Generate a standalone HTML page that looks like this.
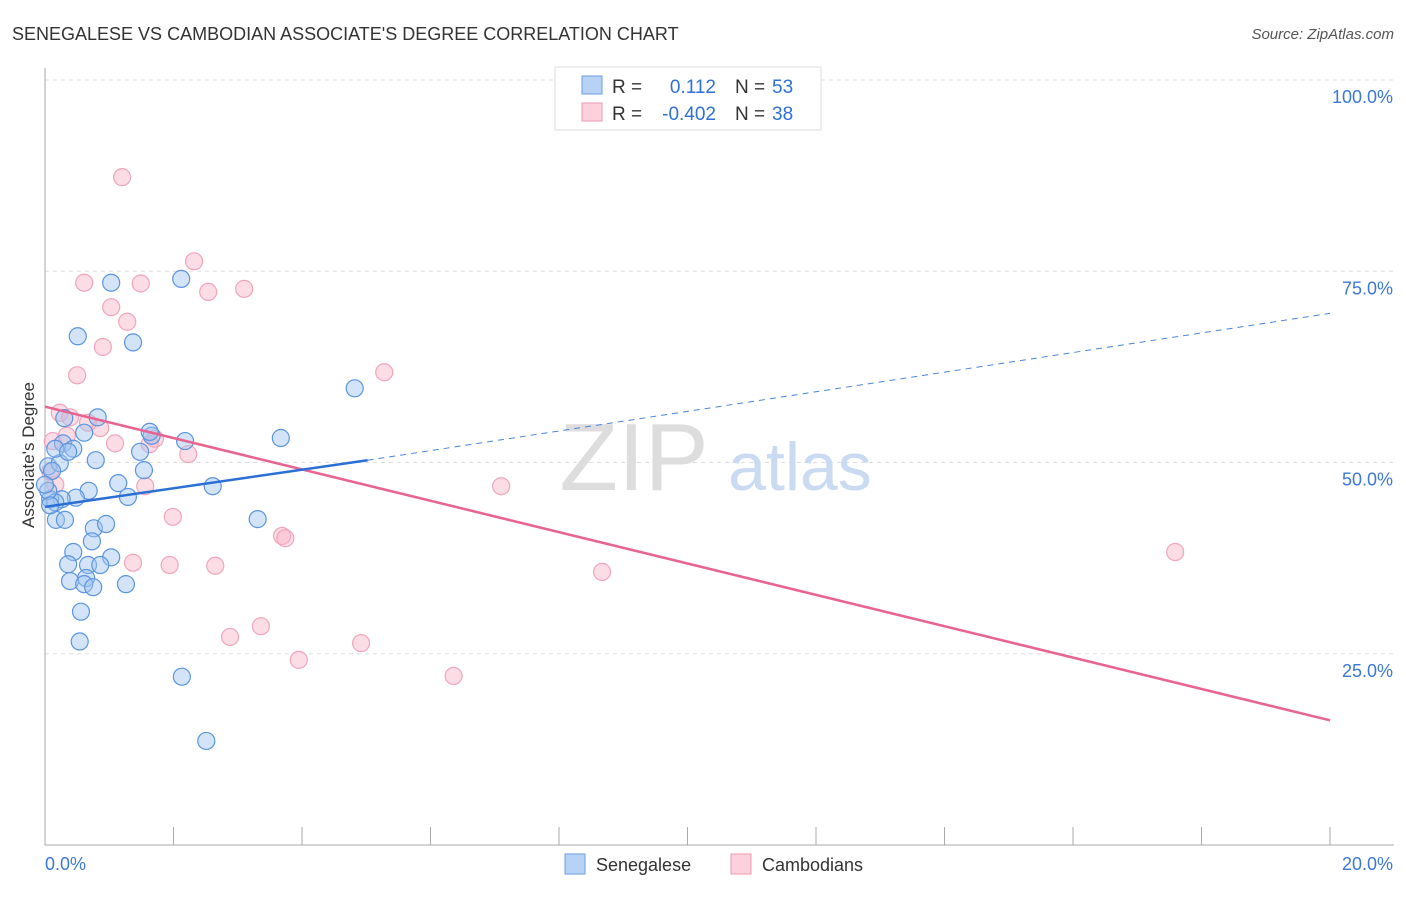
<!DOCTYPE html>
<html><head><meta charset="utf-8"><style>
body{margin:0;background:#fff;font-family:"Liberation Sans",sans-serif;}
svg text{font-family:"Liberation Sans",sans-serif;}
</style></head><body>
<svg id="chart" width="1406" height="892">
<text x="12" y="40" font-size="18" fill="#333">SENEGALESE VS CAMBODIAN ASSOCIATE'S DEGREE CORRELATION CHART</text>
<text x="1394" y="39" font-size="15" fill="#555" font-style="italic" text-anchor="end">Source: ZipAtlas.com</text>
<g id="grid"></g>
<text x="634" y="490" font-size="96" fill="#ddd" font-family="Liberation Serif" text-anchor="middle">ZIP</text>
<text x="800" y="490" font-size="68" fill="#c9daf2" text-anchor="middle">atlas</text>
<g id="pts"></g>
<g id="lines"></g>
<text x="34" y="455" font-size="17" fill="#333" text-anchor="middle" transform="rotate(-90 34 455)">Associate's Degree</text>
<g>
<rect x="555" y="67" width="266" height="63" fill="#fff" stroke="#ddd"/>
<rect x="582" y="76" width="20" height="18" fill="#b8d2f5" stroke="#6a9de0"/>
<rect x="582" y="103" width="20" height="18" fill="#fcd0dc" stroke="#ec9ab2"/>
<text x="612" y="93" font-size="19" fill="#333">R = </text><text x="716" y="93" font-size="19" fill="#2f6fd8" text-anchor="end">0.112</text>
<text x="735" y="93" font-size="19" fill="#333">N = </text><text x="772" y="93" font-size="19" fill="#2f6fd8">53</text>
<text x="612" y="120" font-size="19" fill="#333">R = </text><text x="716" y="120" font-size="19" fill="#2f6fd8" text-anchor="end">-0.402</text>
<text x="735" y="120" font-size="19" fill="#333">N = </text><text x="772" y="120" font-size="19" fill="#2f6fd8">38</text>
</g>
<g><rect x="565" y="854" width="20" height="20" fill="#b8d2f5" stroke="#6a9de0"/><text x="596" y="871" font-size="18" fill="#333">Senegalese</text></g>
<g><rect x="731" y="854" width="20" height="20" fill="#fcd0dc" stroke="#ec9ab2"/><text x="762" y="871" font-size="18" fill="#333">Cambodians</text></g>
</svg>
<script>
const yTicks=[25,50,75,100];
const xTickLabels=["0.0%","20.0%"];
const blueX=[1.03,2.12,0.51,1.37,4.82,3.67,0.82,0.61,0.28,0.44,0.05,0.23,0.79,1.48,1.54,2.18,1.66,1.14,0.68,2.61,1.29,0.48,0.26,0.08,0.16,0.17,0.31,3.31,0.76,0.95,0.73,0.44,1.03,0.36,0.67,0.86,0.64,0.39,1.26,0.61,0.75,0.56,0.54,2.13,2.51,0.11,0.05,0.16,0.36,0.3,1.63,0.08,0.0];
const blueY=[73.5,74.0,66.5,65.7,59.7,53.2,55.9,53.9,52.5,51.8,49.5,49.9,50.3,51.4,49.0,52.8,53.5,47.3,46.3,46.9,45.5,45.4,45.2,45.2,44.8,42.5,42.5,42.6,41.4,41.96,39.7,38.3,37.6,36.7,36.6,36.6,34.9,34.5,34.1,34.1,33.7,30.5,26.6,22.0,13.6,48.9,46.3,51.8,51.4,55.8,54.0,44.4,47.1];
const pinkX=[1.2,2.32,0.61,1.49,3.1,2.54,1.03,1.28,0.9,0.5,5.28,0.23,0.39,0.67,0.86,0.12,0.34,1.09,1.71,1.63,2.23,1.56,0.16,0.08,7.1,1.99,3.69,3.74,1.37,1.94,2.65,8.67,17.59,3.36,2.88,4.92,3.95,6.36];
const pinkY=[87.3,76.3,73.5,73.4,72.7,72.3,70.3,68.4,65.1,61.4,61.8,56.5,55.9,55.2,54.5,52.8,53.5,52.5,53.1,52.4,51.1,46.9,47.1,48.8,46.9,42.9,40.4,40.1,36.9,36.6,36.5,35.7,38.3,28.6,27.2,26.4,24.2,22.1];
const blueLine=[[0,44.2],[5.02,50.3]];
const blueDash=[[5.02,50.3],[20,69.5]];
const pinkLine=[[0,57.3],[20,16.3]];
const X0=45,X1=1330,Y0=845;
const xs=v=>X0+v/20*(X1-X0);
const ys=v=>Y0-v/100*765;
const NS="http://www.w3.org/2000/svg";
function mk(t,a,p){const e=document.createElementNS(NS,t);for(const k in a)e.setAttribute(k,a[k]);p.appendChild(e);return e;}
const g=document.getElementById('grid');
yTicks.forEach(t=>{
 const l=mk('line',{x1:X0,x2:1394,y1:ys(t),y2:ys(t),stroke:'#ddd','stroke-dasharray':'4 4'},g);
 
 
 const tx=mk('text',{x:1393,y:ys(t)+23,'font-size':18,fill:'#3b78d8','text-anchor':'end'},g);
 tx.textContent=t.toFixed(1)+'%';
 
 
});
mk('line',{x1:X0,x2:X0,y1:68,y2:Y0,stroke:'#aaa'},g);
mk('line',{x1:X0,x2:1394,y1:Y0,y2:Y0,stroke:'#aaa'},g);
for(let i=1;i<=10;i++){mk('line',{x1:xs(i*2),x2:xs(i*2),y1:Y0-18,y2:Y0,stroke:'#aaa'},g);}
[[0,'start',45],[20,'end',1393]].forEach((d,i)=>{
 const tx=mk('text',{x:d[2],y:870,'font-size':18,fill:'#3b78d8','text-anchor':d[1]},g);
 tx.textContent=xTickLabels[i];
 
 
});
const p=document.getElementById('pts');
pinkX.forEach((x,i)=>{
 const c=mk('circle',{cx:xs(x),cy:ys(pinkY[i]),r:8.5,fill:'rgba(248,180,200,0.45)',stroke:'#f0a5bd','stroke-width':1.2},p);
 
 
});
blueX.forEach((x,i)=>{
 const c=mk('circle',{cx:xs(x),cy:ys(blueY[i]),r:8.5,fill:'rgba(160,195,240,0.45)',stroke:'#5b95df','stroke-width':1.2},p);
 
 
});
const L=document.getElementById('lines');
function ln(a,st,dash,name){const e=mk('line',{x1:xs(a[0][0]),y1:ys(a[0][1]),x2:xs(a[1][0]),y2:ys(a[1][1]),stroke:st,'stroke-width':dash?1:2.5},L);if(dash)e.setAttribute('stroke-dasharray','6 5');
 
 }
ln(pinkLine,'#e8638f',false,'cambodian-trendline');
ln(blueLine,'#2b6fd6',false,'senegalese-trendline');
ln(blueDash,'#4a84dc',true,'senegalese-trendline-extension');
</script>
</body></html>
